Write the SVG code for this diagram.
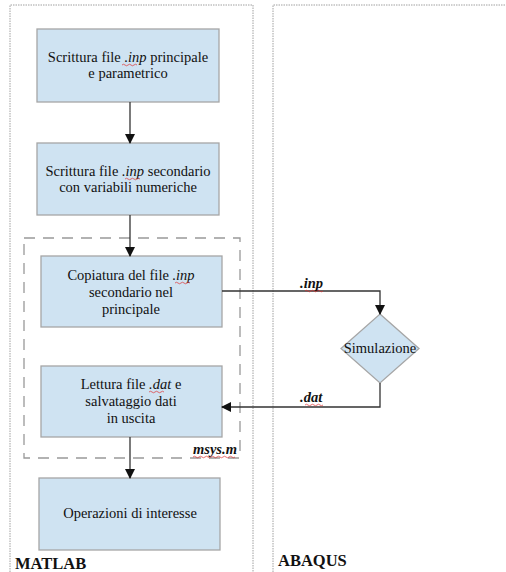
<svg xmlns="http://www.w3.org/2000/svg" width="506" height="572" viewBox="0 0 506 572">
<defs>
<style>
.lane{fill:none;stroke:#a0a0a0;stroke-width:1;stroke-dasharray:1.5 1}
.box{fill:#cfe3f2;stroke:#a6a6a6;stroke-width:1.3}
.t{font-family:"Liberation Serif","Times New Roman",serif;font-size:14.5px;fill:#111;text-anchor:middle}
.lbl{font-family:"Liberation Serif","Times New Roman",serif;font-size:14.5px;font-style:italic;font-weight:bold;fill:#111}
.title{font-family:"Liberation Serif","Times New Roman",serif;font-size:16.5px;font-weight:bold;fill:#111}
.con{fill:none;stroke:#333;stroke-width:1.3}
.sq{fill:none;stroke:#e03030;stroke-width:0.7}
</style>
<marker id="ah" markerWidth="10" markerHeight="10" refX="9" refY="5" orient="auto" markerUnits="userSpaceOnUse">
<path d="M0,0 L10,5 L0,10 Z" fill="#111"/>
</marker>
</defs>
<rect width="506" height="572" fill="#fff"/>
<g id="lanes">
<path class="lane" d="M10,572 V5 H253 V572"/>
<path class="lane" d="M273,572 V5 H506"/>
<text class="title" x="15" y="569">MATLAB</text>
<text class="title" x="278" y="566">ABAQUS</text>
</g>
<g id="msys">
<rect x="24" y="238" width="216" height="220" fill="none" stroke="#999" stroke-width="1.3" stroke-dasharray="11 8"/>
<text class="lbl" x="193" y="454">msys.m</text>
<path class="sq" d="M193,457 q1.5,-1.5 3,0 t3,0 t3,0 t3,0 t3,0 t3,0 t3,0 t3,0 t3,0 t3,0 t3,0 t3,0 t3,0 t3,0"/>
</g>
<g id="n1">
<rect class="box" x="37" y="29" width="182" height="73"/>
<text class="t" x="128" y="62">Scrittura file <tspan font-style="italic">.inp</tspan> principale</text>
<text class="t" x="128" y="78">e parametrico</text>
<path class="sq" d="M122,65 q1.5,-1.5 3,0 t3,0 t3,0 t3,0 t3,0"/>
</g>
<g id="n2">
<rect class="box" x="37" y="143" width="182" height="72"/>
<text class="t" x="128" y="176">Scrittura file <tspan font-style="italic">.inp</tspan> secondario</text>
<text class="t" x="128" y="192">con variabili numeriche</text>
<path class="sq" d="M125,179 q1.5,-1.5 3,0 t3,0 t3,0 t3,0 t3,0"/>
</g>
<g id="n3">
<rect class="box" x="41" y="256" width="181" height="71"/>
<text class="t" x="131" y="280">Copiatura del file <tspan font-style="italic">.inp</tspan></text>
<text class="t" x="131" y="297">secondario nel</text>
<text class="t" x="131" y="314">principale</text>
<path class="sq" d="M175,283 q1.5,-1.5 3,0 t3,0 t3,0 t3,0 t3,0"/>
</g>
<g id="n4">
<rect class="box" x="41" y="366" width="181" height="71"/>
<text class="t" x="131" y="389">Lettura file <tspan font-style="italic">.dat</tspan>  e</text>
<text class="t" x="131" y="406">salvataggio dati</text>
<text class="t" x="131" y="423">in uscita</text>
<path class="sq" d="M149,392 q1.5,-1.5 3,0 t3,0 t3,0 t3,0 t3,0"/>
</g>
<g id="n5">
<rect class="box" x="39" y="478" width="181" height="72"/>
<text class="t" x="130" y="518">Operazioni di interesse</text>
</g>
<g id="sim">
<polygon class="box" points="380,314 419,348.5 380,383 341,348.5"/>
<text class="t" x="380" y="353">Simulazione</text>
</g>
<g id="connectors">
<path class="con" d="M130,102 V143" marker-end="url(#ah)"/>
<path class="con" d="M130,215 V256" marker-end="url(#ah)"/>
<path class="con" d="M130,437 V478" marker-end="url(#ah)"/>
<path class="con" d="M222,291 H380 V314" marker-end="url(#ah)"/>
<path class="con" d="M380,383 V407 H222" marker-end="url(#ah)"/>
<text class="lbl" x="300" y="288">.inp</text>
<path class="sq" d="M305,291 q1.5,-1.5 3,0 t3,0 t3,0 t3,0 t3,0 t3,0"/>
<text class="lbl" x="300" y="402">.dat</text>
<path class="sq" d="M305,405 q1.5,-1.5 3,0 t3,0 t3,0 t3,0 t3,0 t3,0"/>
</g>
</svg>
